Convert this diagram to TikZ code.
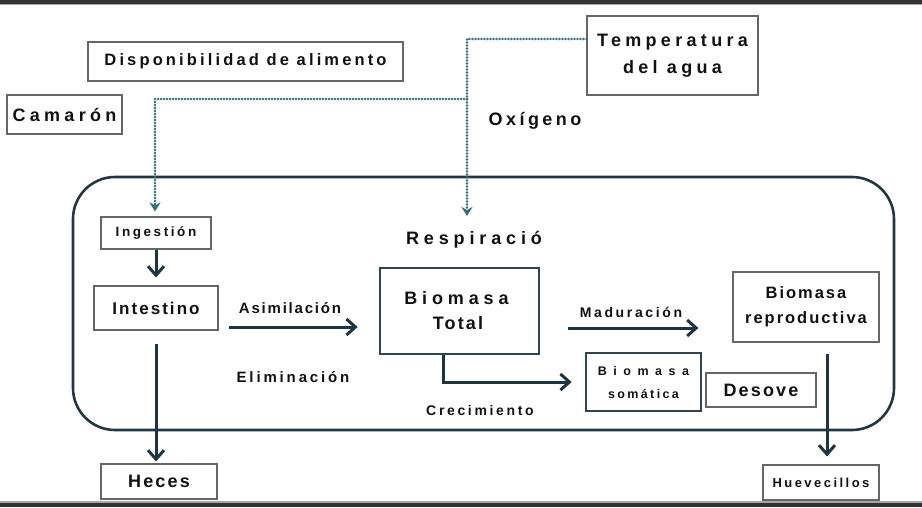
\documentclass[tikz,border=0pt]{standalone}
\usepackage{fontspec}
\setmainfont{Liberation Sans}
\newfontfamily\lsa[LetterSpace=12]{Liberation Sans}
\newfontfamily\lsb[LetterSpace=19]{Liberation Sans}
\newfontfamily\lsc[LetterSpace=24]{Liberation Sans}
\newfontfamily\lsd[LetterSpace=27]{Liberation Sans}
\newfontfamily\lse[LetterSpace=52]{Liberation Sans}
\usetikzlibrary{arrows.meta}
\definecolor{txt}{HTML}{111111}
\definecolor{boxgray}{HTML}{666666}
\definecolor{slate}{HTML}{2E4650}
\definecolor{navy}{HTML}{1E3440}
\definecolor{tealdot}{HTML}{356E7C}
\definecolor{frame}{HTML}{23373F}
\newcommand\fsz[2]{\fontsize{#1}{#2}\selectfont\bfseries}
\tikzset{
  box/.style={draw=boxgray, line width=1.1pt, fill=white, inner sep=0pt, text=txt, align=center},
  bbox/.style={box, draw=slate, line width=2.6pt},
  lbl/.style={inner sep=0pt, text=txt, align=center},
  flow/.style={draw=navy, line width=3pt, -{Straight Barb[length=9pt,width=16pt]}},
  dots/.style={draw=tealdot, line width=2.8pt, dash pattern=on 0pt off 3pt, line cap=round},
  dotarrow/.style={dots, -{Stealth[length=9pt,width=11pt]}},
}
\begin{document}
\begin{tikzpicture}[x=1pt,y=-1pt]
\useasboundingbox (0,0) rectangle (922,507);
% top and bottom bars
\fill[black!80] (0,0) rectangle (922,3.5);
\fill[black!35] (0,3.5) rectangle (922,5);
\fill[black!80] (0,502.5) rectangle (922,507);
\fill[black!35] (0,501) rectangle (922,502.5);
% outer rounded frame
\draw[frame, line width=2.6pt, rounded corners=42pt] (73,177) rectangle (894,430);
% top boxes
\node[box, minimum width=315pt, minimum height=39pt, font=\lsb\fsz{16.5}{20}] (disp) at (245.5,61.5) {Disponibilidad de alimento};
\node[box, minimum width=115pt, minimum height=39pt, font=\lsc\fsz{18}{20}] (cam) at (64.5,114.5) {Camarón};
\node[box, minimum width=171pt, minimum height=79pt, font=\lsc\fsz{18}{27}] (temp) at (672.5,55.5) {Temperatura\\del agua};
\node[lbl, font=\lsb\fsz{18}{20}] (oxi) at (535,121) {Oxígeno};
% inner boxes
\node[box, minimum width=110pt, minimum height=32pt, font=\lsb\fsz{13.5}{16}] (ing) at (156,233) {Ingestión};
\node[box, minimum width=124pt, minimum height=44pt, font=\lsa\fsz{17}{20}] (int) at (156,308) {Intestino};
\node[box, minimum width=116pt, minimum height=35pt, font=\lsa\fsz{18}{20}] (heces) at (159,481.5) {Heces};
\node[lbl, font=\lsa\fsz{15}{18}] (asim) at (290,308) {Asimilación};
\node[lbl, font=\lsb\fsz{15}{18}] (elim) at (293,377) {Eliminación};
\node[lbl, font=\lsd\fsz{18}{20}] (resp) at (474,240) {Respiració};
\node[bbox, minimum width=159pt, minimum height=86pt, font=\fsz{18}{25}] (bt) at (459.5,311) {{\lsd\fsz{18}{25}Biomasa\hspace*{6pt}}\\{\lsa\fsz{18}{25}Total\hspace*{3pt}}};
\node[bbox, minimum width=115pt, minimum height=58pt, font=\fsz{12.5}{23}] (som) at (643.5,382) {{\lse\fsz{12.5}{23}\rule{0pt}{11pt}Biomasa}\\{\lsb\fsz{12.5}{23}somática}};
\node[lbl, font=\lsb\fsz{14}{16}] (crec) at (480,410) {Crecimiento};
\node[lbl, font=\lsb\fsz{14}{16}] (madur) at (631,312) {Maduración};
\node[box, minimum width=146pt, minimum height=70pt, font=\lsa\fsz{16.5}{25}] (brep) at (806,307) {Biomasa\\reproductiva};
\node[box, minimum width=110pt, minimum height=34pt, font=\lsa\fsz{18}{20}] (des) at (761,390) {Desove};
\node[box, minimum width=116pt, minimum height=35pt, font=\lsb\fsz{13}{16}] (huev) at (821,482.5) {Huevecillos};
% dotted influence lines
\coordinate (jn) at (467,99);
\coordinate (respin) at (467,216);
\draw[dotarrow] ([shift={(0,-16.5)}]temp.west) -| (respin);
\draw[dotarrow, shorten >=5pt] (jn) -| ([xshift=-1pt]ing.north);
% flows
\draw[flow, shorten >=8pt] (ing.south) -- (int.north);
\draw[flow] ([shift={(0,13)}]int.south) -- ([shift={(-3,-2)}]heces.north);
\draw[flow] ([shift={(10,19)}]int.east) -- ([shift={(-21,16)}]bt.west);
\draw[flow] ([shift={(28,17)}]bt.east) -- ([shift={(-34,21)}]brep.west);
\draw[flow, shorten >=13pt] ([xshift=-16.5pt]bt.south) |- (som.west);
\draw[flow] ([shift={(21,11)}]brep.south) -- ([shift={(6,-8)}]huev.north);
\end{tikzpicture}
\end{document}
